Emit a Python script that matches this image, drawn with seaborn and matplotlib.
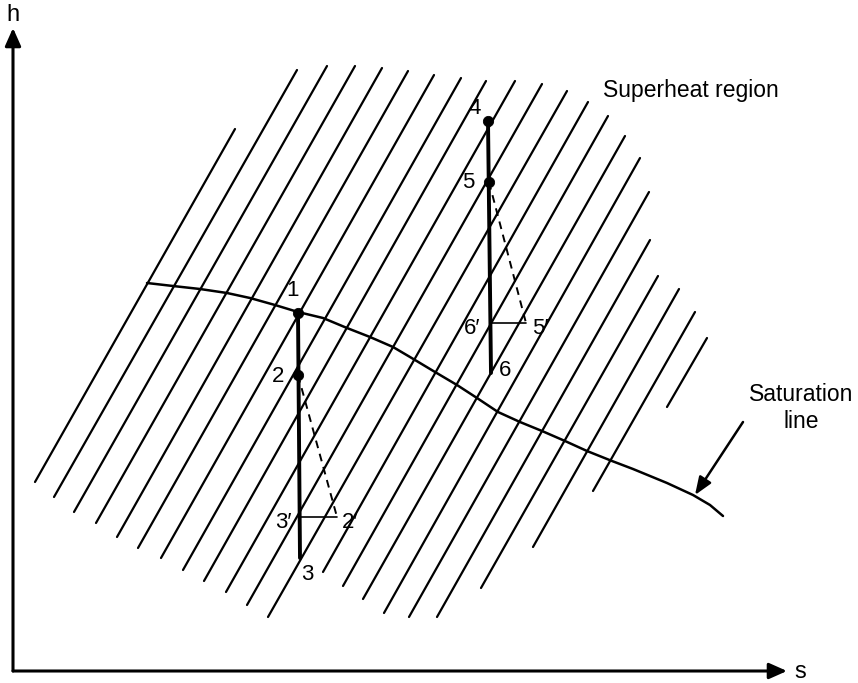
import matplotlib
matplotlib.use("Agg")
import matplotlib.pyplot as plt
import seaborn as sns
import pandas as pd

sns.set_theme(style="white")
plt.rcParams['font.family'] = ['Liberation Sans', 'DejaVu Sans']
plt.rcParams['text.color'] = 'black'

# Constant-pressure lines: (s, h) at lower and upper end
line_s_low = [0.22, 0.41, 0.61, 0.83, 1.04, 1.25, 1.48, 1.70, 1.91, 2.13, 2.34,
              2.55, 3.10, 3.30, 3.50, 3.71, 3.96, 4.24, 4.68, 5.20, 5.80, 6.54]
line_h_low = [1.89, 1.74, 1.59, 1.48, 1.34, 1.23, 1.13, 1.01, 0.90, 0.79, 0.66,
              0.54, 0.99, 0.85, 0.72, 0.58, 0.54, 0.54, 0.83, 1.24, 1.80, 2.64]
line_s_high = [2.22, 2.84, 3.14, 3.42, 3.69, 3.95, 4.21, 4.48, 4.73, 5.02, 5.29,
               5.54, 5.75, 5.95, 6.12, 6.27, 6.36, 6.37, 6.45, 6.66, 6.82, 6.94]
line_h_high = [5.42, 6.01, 6.05, 6.05, 6.03, 6.00, 5.96, 5.93, 5.90, 5.90, 5.87,
               5.80, 5.69, 5.55, 5.35, 5.13, 4.79, 4.31, 3.95, 3.82, 3.59, 3.33]

# Saturation line
sat_s = [1.34, 1.60, 1.87, 2.14, 2.37, 2.62, 2.85, 3.10, 3.34, 3.57, 3.80, 3.97,
         4.22, 4.44, 4.64, 4.85, 5.07, 5.29, 5.52, 5.74, 5.99, 6.20, 6.54, 6.80,
         6.97, 7.10]
sat_h = [3.88, 3.85, 3.82, 3.78, 3.73, 3.66, 3.59, 3.53, 3.43, 3.34, 3.24, 3.14,
         2.99, 2.86, 2.73, 2.59, 2.49, 2.40, 2.30, 2.20, 2.10, 2.02, 1.88, 1.76,
         1.66, 1.55]

# State points
pt_names = ["1", "2", "3'", "3", "2'", "4", "5", "6'", "6", "5'"]
pt_s = [2.85, 2.85, 2.87, 2.87, 3.24, 4.75, 4.76, 4.77, 4.78, 5.13]
pt_h = [3.58, 2.96, 1.54, 1.13, 1.54, 5.50, 4.89, 3.48, 2.98, 3.48]

# Labels
lab_text = ["1", "2", "3\u2032", "2\u2032", "3", "4", "5", "6\u2032", "5\u2032", "6"]
lab_s = [2.80, 2.65, 2.70, 3.37, 2.94, 4.62, 4.55, 4.59, 5.27, 4.92]
lab_h = [3.81, 2.95, 1.48, 1.48, 0.96, 5.63, 4.89, 3.43, 3.43, 3.01]

P = dict(zip(pt_names, zip(pt_s, pt_h)))

fig = plt.figure(figsize=(8.58, 6.83), dpi=100)
ax = fig.add_axes([0, 0, 1, 1])
ax.set_xlim(-0.13, 8.45)
ax.set_ylim(-0.12, 6.71)
ax.axis("off")

# diagonal lines
rows = []
for i in range(len(line_s_low)):
    rows.append(dict(line=i, s=line_s_low[i], h=line_h_low[i]))
    rows.append(dict(line=i, s=line_s_high[i], h=line_h_high[i]))
df_lines = pd.DataFrame(rows)
sns.lineplot(data=df_lines, x="s", y="h", units="line", estimator=None,
             sort=False, color="black", lw=1.6, ax=ax, legend=False)

# saturation line
df_sat = pd.DataFrame(dict(s=sat_s, h=sat_h))
sns.lineplot(data=df_sat, x="s", y="h", sort=False, color="black", lw=1.8, ax=ax)

# expansion lines (thick vertical)
for a, b in [("1", "3"), ("4", "6")]:
    d = pd.DataFrame(dict(s=[P[a][0], P[b][0]], h=[P[a][1], P[b][1]]))
    sns.lineplot(data=d, x="s", y="h", sort=False, color="black", lw=2.8, ax=ax)

# dashed actual lines
for a, b in [("2", "2'"), ("5", "5'")]:
    d = pd.DataFrame(dict(s=[P[a][0], P[b][0]], h=[P[a][1], P[b][1]]))
    sns.lineplot(data=d, x="s", y="h", sort=False, color="black", lw=1.4,
                 linestyle=(0, (4, 3)), ax=ax)
# horizontal thin
for a, b in [("3'", "2'"), ("6'", "5'")]:
    d = pd.DataFrame(dict(s=[P[a][0], P[b][0]], h=[P[a][1], P[b][1]]))
    sns.lineplot(data=d, x="s", y="h", sort=False, color="black", lw=1.2, ax=ax)

# dots
dots = pd.DataFrame(dict(s=[P[k][0] for k in ["1", "2", "4", "5"]],
                         h=[P[k][1] for k in ["1", "2", "4", "5"]]))
sns.scatterplot(data=dots, x="s", y="h", color="black", s=55, ax=ax, zorder=5,
                edgecolor="black")

for t, x, y in zip(lab_text, lab_s, lab_h):
    ax.text(x, y, t, ha="center", va="center", fontsize=16, color="black")

# axes arrows
ax.annotate("", xy=(0, 6.43), xytext=(0, 0),
            arrowprops=dict(arrowstyle="-|>,head_length=0.9,head_width=0.4",
                            color="black", lw=2.2, shrinkA=0, shrinkB=0))
ax.annotate("", xy=(7.74, 0), xytext=(0, 0),
            arrowprops=dict(arrowstyle="-|>,head_length=0.9,head_width=0.4",
                            color="black", lw=2.2, shrinkA=0, shrinkB=0))
ax.text(0, 6.56, "h", ha="center", va="center", fontsize=17, color="black")
ax.text(7.87, -0.01, "s", ha="center", va="center", fontsize=17, color="black")

ax.text(5.90, 5.81, "Superheat region", ha="left", va="center", fontsize=16.5,
        color="black")
ax.text(7.88, 2.63, "Saturation\nline", ha="center", va="center", fontsize=16.5,
        linespacing=1.2, color="black")
ax.annotate("", xy=(6.82, 1.76), xytext=(7.30, 2.49),
            arrowprops=dict(arrowstyle="-|>,head_length=0.9,head_width=0.35",
                            color="black", lw=1.8, shrinkA=0, shrinkB=0))

fig.savefig("out.png", dpi=100)
